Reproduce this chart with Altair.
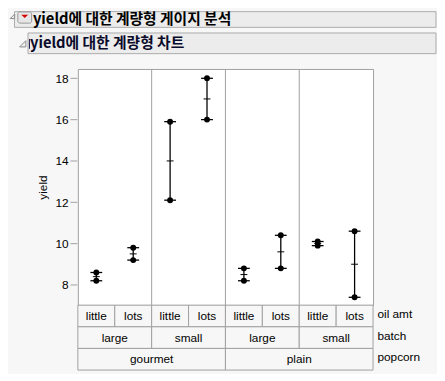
import altair as alt
import pandas as pd

# ---- data ----
popcorn = ["gourmet", "gourmet", "gourmet", "gourmet", "plain", "plain", "plain", "plain"]
batch = ["large", "large", "small", "small", "large", "large", "small", "small"]
oil_amt = ["little", "lots", "little", "lots", "little", "lots", "little", "lots"]
yield_trial1 = [8.6, 9.2, 12.1, 18.0, 8.2, 10.4, 9.9, 10.6]
yield_trial2 = [8.2, 9.8, 15.9, 16.0, 8.8, 8.8, 10.1, 7.4]
y_ticks = [8, 10, 12, 14, 16, 18]
row_labels = ["oil amt", "batch", "popcorn"]
title_main = "yield에 대한 계량형 게이지 분석"
title_sub = "yield에 대한 계량형 차트"

W, H = 300, 240
GRID = "#a0a0a0"
FONT = "Liberation Sans"
KFONT = "Noto Sans CJK KR"

n = len(oil_amt)
pts = pd.DataFrame({
    "pos": [i + 0.5 for i in range(n)] * 2,
    "yield": yield_trial1 + yield_trial2,
})
rng = pd.DataFrame({
    "pos": [i + 0.5 for i in range(n)],
    "lo": [min(a, b) for a, b in zip(yield_trial1, yield_trial2)],
    "hi": [max(a, b) for a, b in zip(yield_trial1, yield_trial2)],
    "mean": [(a + b) / 2 for a, b in zip(yield_trial1, yield_trial2)],
})

def runs(keys):
    out = []
    start = 0
    for i in range(1, len(keys) + 1):
        if i == len(keys) or keys[i] != keys[start]:
            out.append({"start": start, "end": i, "mid": (start + i) / 2, "label": keys[start][-1]})
            start = i
    return out

rows = [
    pd.DataFrame(runs([(p, b, o) for p, b, o in zip(popcorn, batch, oil_amt)])),
    pd.DataFrame(runs([(p, b) for p, b in zip(popcorn, batch)])),
    pd.DataFrame(runs([(p,) for p in popcorn])),
]

xs = alt.Scale(domain=[0, n], nice=False, zero=False)
ys = alt.Scale(domain=[7.02, 18.45], nice=False, zero=False)
X = lambda f: alt.X(f, type="quantitative", scale=xs, axis=None)

layers = []

# panel dividers
div = pd.DataFrame({"d": [2, 4, 6]})
layers.append(alt.Chart(div).mark_rule(color=GRID, strokeWidth=1).encode(
    x=X("d"), y=alt.value(0), y2=alt.value(H)))

# range bars
layers.append(alt.Chart(rng).mark_rule(color="black", strokeWidth=1.3).encode(
    x=X("pos"),
    y=alt.Y("lo:Q", scale=ys, title="yield",
            axis=alt.Axis(values=y_ticks, grid=False, domain=False, offset=1,
                          tickSize=7, tickColor=GRID, labelPadding=2,
                          labelFont=FONT, labelFontSize=12, labelColor="black",
                          titleFont=FONT, titleFontSize=12, titleFontWeight="normal",
                          titleColor="black", titlePadding=6)),
    y2="hi:Q"))
for f in ["lo", "hi"]:
    layers.append(alt.Chart(rng).mark_rule(color="black", strokeWidth=1.3,
                                           xOffset=-6, x2Offset=6).encode(
        x=X("pos"), x2="pos:Q", y=alt.Y(f"{f}:Q", scale=ys)))
layers.append(alt.Chart(rng).mark_rule(color="black", strokeWidth=1,
                                       xOffset=-3.5, x2Offset=3.5).encode(
    x=X("pos"), x2="pos:Q", y=alt.Y("mean:Q", scale=ys)))
layers.append(alt.Chart(pts).mark_circle(size=36, color="black", opacity=1).encode(
    x=X("pos"), y=alt.Y("yield:Q", scale=ys)))

# label table under the plot
row_h = 22
for r, df in enumerate(rows):
    top = H + r * row_h
    layers.append(alt.Chart(df).mark_rect(fill="#f7f7f7", stroke=GRID, strokeWidth=1).encode(
        x=X("start"), x2="end:Q", y=alt.value(top), y2=alt.value(top + row_h)))
    layers.append(alt.Chart(df).mark_text(font=FONT, fontSize=12, color="black",
                                          baseline="alphabetic", align="center").encode(
        x=X("mid"), y=alt.value(top + 15), text="label:N"))
    lab = pd.DataFrame({"t": [row_labels[r]]})
    layers.append(alt.Chart(lab).mark_text(font=FONT, fontSize=12, color="black",
                                           baseline="alphabetic", align="left").encode(
        x=alt.value(W + 4.5), y=alt.value(top + 13), text="t:N"))

# header outline boxes
hdr = pd.DataFrame({"t": [title_main]})
hdr2 = pd.DataFrame({"t": [title_sub]})
layers.append(alt.Chart(hdr).mark_rect(fill="#ececec", stroke="#aaaaaa", strokeWidth=1).encode(
    x=alt.value(-64.4), x2=alt.value(364), y=alt.value(-58.3), y2=alt.value(-42.3)))
layers.append(alt.Chart(hdr2).mark_rect(fill="#ececec", stroke="#aaaaaa", strokeWidth=1).encode(
    x=alt.value(-50.7), x2=alt.value(364), y=alt.value(-36.6), y2=alt.value(-15.6)))
# focus bar at start of the second header
layers.append(alt.Chart(hdr2).mark_rule(color="#1a1a4a", strokeWidth=1).encode(
    x=alt.value(-49.2), y=alt.value(-30.5), y2=alt.value(-20.5)))
# disclosure triangles
tri = "M1,-1L1,1L-1,1Z"
layers.append(alt.Chart(hdr).mark_point(shape=tri, size=20, filled=True, fill="#f0f0f0",
                                        stroke="#888888", strokeWidth=1, opacity=1).encode(
    x=alt.value(-66.5), y=alt.value(-53.5)))
layers.append(alt.Chart(hdr2).mark_point(shape=tri, size=40, filled=True, fill="#f0f0f0",
                                         stroke="#888888", strokeWidth=1, opacity=1).encode(
    x=alt.value(-56), y=alt.value(-25.6)))
# red popup icon
layers.append(alt.Chart(hdr).mark_rect(fill="#e6e6e6", stroke="#999999", strokeWidth=1,
                                       cornerRadius=2).encode(
    x=alt.value(-61), x2=alt.value(-47), y=alt.value(-58.0), y2=alt.value(-46.6)))
layers.append(alt.Chart(hdr).mark_point(shape="M-1,-0.5L1,-0.5L0,0.5Z", size=49, filled=True,
                                        color="#d40000", opacity=1).encode(
    x=alt.value(-54), y=alt.value(-53.5)))
# titles
layers.append(alt.Chart(hdr).mark_text(font=KFONT, fontSize=15, fontWeight="bold", color="black",
                                       align="left", baseline="middle").encode(
    x=alt.value(-45.7), y=alt.value(-50.4), text="t:N"))
layers.append(alt.Chart(hdr2).mark_text(font=KFONT, fontSize=15, fontWeight="bold", color="#0a0a2a",
                                        align="left", baseline="middle").encode(
    x=alt.value(-48.7), y=alt.value(-26.5), text="t:N"))

chart = alt.layer(*layers).properties(
    width=W, height=H, padding=0, background="#f7f7f7"
).configure_view(stroke=GRID, fill="white")

chart.save("out.html", embed_options={"renderer": "svg", "actions": False})
